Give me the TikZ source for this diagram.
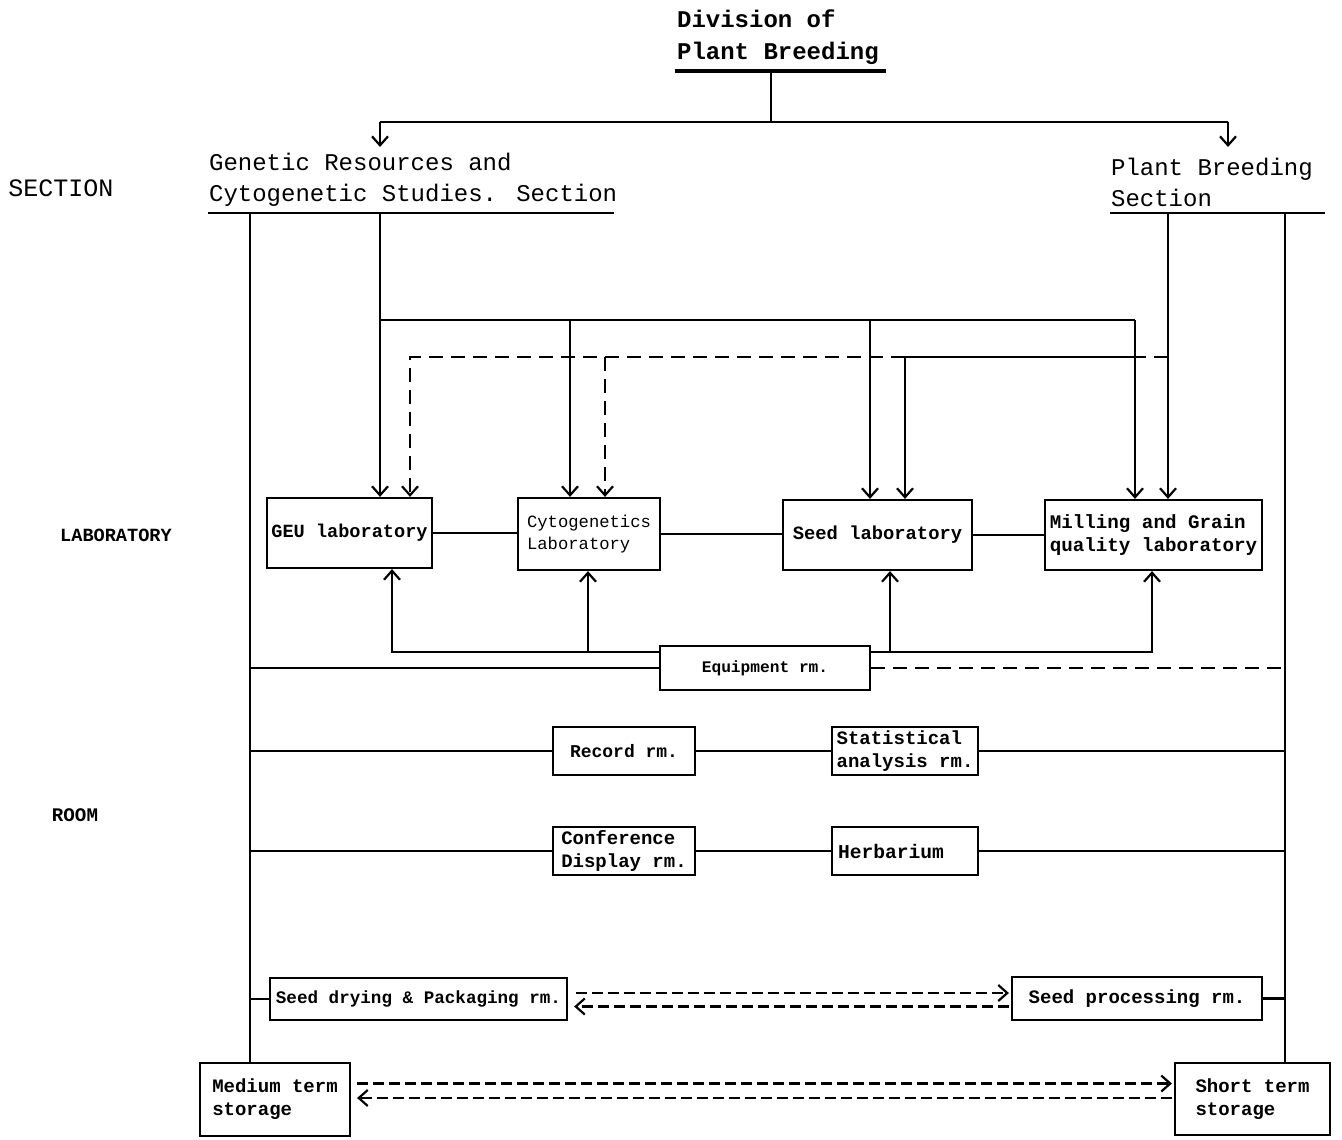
\documentclass[tikz,border=0pt]{standalone}
\usepackage{fontspec}
\usetikzlibrary{arrows.meta}
\newfontfamily\tw{Liberation Mono}
\begin{document}
\begin{tikzpicture}[x=0.5pt,y=-0.5pt,line width=1.1pt,
  arr/.style={-{Straight Barb[length=4.5pt,width=8pt]}},
  dsh/.style={dash pattern=on 7pt off 4pt},
  dshf/.style={dash pattern=on 5.5pt off 2.5pt},
  hdr/.style={inner sep=0pt,align=left,font=\tw\fontsize{12}{15.5}\selectfont},
  side/.style={inner sep=0pt,font=\tw\bfseries\fontsize{9.3}{11}\selectfont},
  box/.style={draw,rectangle,inner sep=1pt,align=left,
    font=\tw\bfseries\fontsize{9.5}{11.5}\selectfont}]
\fill[white] (0,0) rectangle (1342,1139);
\useasboundingbox (0,0) rectangle (1342,1139);

% ---- headings ----
\node[hdr,anchor=south west,font=\tw\bfseries\fontsize{12}{16}\selectfont] (div) at (676,66) {Division of\\Plant Breeding};
\node[hdr,anchor=south west] (gen) at (208,208) {Genetic Resources and\\Cytogenetic Studies. Section};
\node[hdr,anchor=south west] (pbs) at (1110,208) {Plant Breeding\\Section};
\node[side,font=\tw\fontsize{12.5}{14}\selectfont] (lsec) at (61,188) {SECTION};
\node[side] (llab) at (116,535) {LABORATORY};
\node[side,font=\tw\bfseries\fontsize{9.6}{11}\selectfont] (lroom) at (75,815) {ROOM};

% underlines
\draw[line width=1.6pt] (675,71) -- (886,71);
\draw (208,213) -- (614,213);
\draw (1110,213) -- (1325,213);

% ---- laboratories ----
\node[box,minimum width=82.5pt,minimum height=35pt,font=\tw\bfseries\fontsize{9.3}{11}\selectfont] (geu) at (349.5,533) {GEU laboratory};
\node[box,minimum width=71pt,minimum height=36pt,font=\tw\fontsize{8.6}{11}\selectfont] (cyt) at (589,534) {Cytogenetics\\Laboratory};
\node[box,minimum width=94.5pt,minimum height=35pt,font=\tw\bfseries\fontsize{9.4}{11}\selectfont] (sdl) at (877.5,535) {Seed laboratory};
\node[box,minimum width=108.5pt,minimum height=35pt,font=\tw\bfseries\fontsize{9.6}{11.5}\selectfont] (mil) at (1153.5,535) {Milling and Grain\\quality laboratory};

% ---- rooms ----
\node[box,minimum width=105pt,minimum height=22pt,font=\tw\bfseries\fontsize{8.1}{10}\selectfont] (eqp) at (765,668) {Equipment rm.};
\node[box,minimum width=71pt,minimum height=24pt,font=\tw\bfseries\fontsize{9}{11}\selectfont] (rec) at (624,751) {Record rm.};
\node[box,minimum width=73pt,minimum height=24pt] (sta) at (905,751) {Statistical\\analysis rm.};
\node[box,minimum width=71pt,minimum height=24pt] (con) at (624,851) {Conference\\Display rm.};
\node[box,inner xsep=3pt,text width=67pt,minimum height=24pt,font=\tw\bfseries\fontsize{9.8}{11.5}\selectfont] (her) at (905,851) {Herbarium};
\node[box,minimum width=148.5pt,minimum height=21pt,font=\tw\bfseries\fontsize{8.8}{10}\selectfont] (dry) at (418.5,999) {Seed drying \& Packaging rm.};
\node[box,minimum width=125pt,minimum height=21.5pt] (pro) at (1137,998.5) {Seed processing rm.};
\node[box,minimum width=75pt,minimum height=36.5pt] (med) at (275,1099.5) {Medium term\\storage};
\node[box,minimum width=77.5pt,minimum height=36pt] (sht) at (1252.5,1099) {Short term\\storage};

% ---- junction points ----
\coordinate (t0) at (771,71);
\coordinate (tL) at (380,122);
\coordinate (tR) at (1228,122);
\coordinate (gcs) at (380,213);
\coordinate (pb) at (1168,213);
\coordinate (railL) at (250,213);
\coordinate (railR) at (1285,213);
\coordinate (b1) at (380,320);
\coordinate (b2) at (570,320);
\coordinate (b3) at (870,320);
\coordinate (b4) at (1135,320);
\coordinate (d1) at (410,357);
\coordinate (d2) at (605,357);
\coordinate (d3) at (905,357);
\coordinate (d4) at (1135,357);
\coordinate (e1) at (392,652);
\coordinate (e2) at (588,652);
\coordinate (e3) at (890,652);
\coordinate (e4) at (1152,652);

% division to sections
\draw (t0) -- (t0 |- tL);
\draw (tL) -- (tR);
\draw[arr] (tL) -- ++(0,25);
\draw[arr] (tR) -- ++(0,25);

% side rails
\draw (railL) -- (railL |- med.north);
\draw (railR) -- (railR |- sht.north);

% section to laboratories
\draw[arr] (gcs) -- (gcs |- geu.north);
\draw (b1) -- (b4);
\draw[arr] (b2) -- (b2 |- cyt.north);
\draw[arr] (b3) -- (b3 |- sdl.north);
\draw[arr] (b4) -- (b4 |- mil.north);
\draw[arr] (pb) -- (pb |- mil.north);
\draw[dsh] (pb |- d4) -- (d4);
\draw[arr] (d4) -- (d3) -- (d3 |- sdl.north);
\draw[dsh,arr] (d3) -- (d1) -- (d1 |- geu.north);
\draw[dsh,arr] (d2) -- (d2 |- cyt.north);

% links between laboratories
\draw (geu.east) -- (geu.east -| cyt.west);
\draw (cyt.east) -- (cyt.east -| sdl.west);
\draw (sdl.east) -- (sdl.east -| mil.west);

% equipment room to laboratories
\draw[arr] (eqp.west |- e1) -- (e1) -- (e1 |- geu.south);
\draw[arr] (e2) -- (e2 |- cyt.south);
\draw[arr] (eqp.east |- e4) -- (e4) -- (e4 |- mil.south);
\draw[arr] (e3) -- (e3 |- sdl.south);

% room rows
\draw (railL |- eqp.west) -- (eqp.west);
\draw[dsh] (eqp.east) -- (railR |- eqp.east);
\draw (railL |- rec.west) -- (rec.west);
\draw (rec.east) -- (sta.west);
\draw (sta.east) -- (railR |- sta.east);
\draw (railL |- con.west) -- (con.west);
\draw (con.east) -- (her.west);
\draw (her.east) -- (railR |- her.east);
\draw (railL |- dry.west) -- (dry.west);
\draw (pro.east) -- (railR |- pro.east);

% seed handling flows
\draw[dshf,arr,shorten <=4pt,shorten >=1pt] ([yshift=3pt]dry.east) -- ([yshift=3pt]dry.east -| pro.west);
\draw[dshf,arr,shorten <=1pt,shorten >=3pt] ([yshift=-4pt]pro.west) -- ([yshift=-4pt]pro.west -| dry.east);
\draw[dshf,arr,shorten <=3pt,shorten >=1pt] ([yshift=8pt]med.east) -- ([yshift=8pt]med.east -| sht.west);
\draw[dshf,arr,shorten <=1pt,shorten >=3pt] ([yshift=0.5pt]sht.west) -- ([yshift=0.5pt]sht.west -| med.east);
\end{tikzpicture}
\end{document}
